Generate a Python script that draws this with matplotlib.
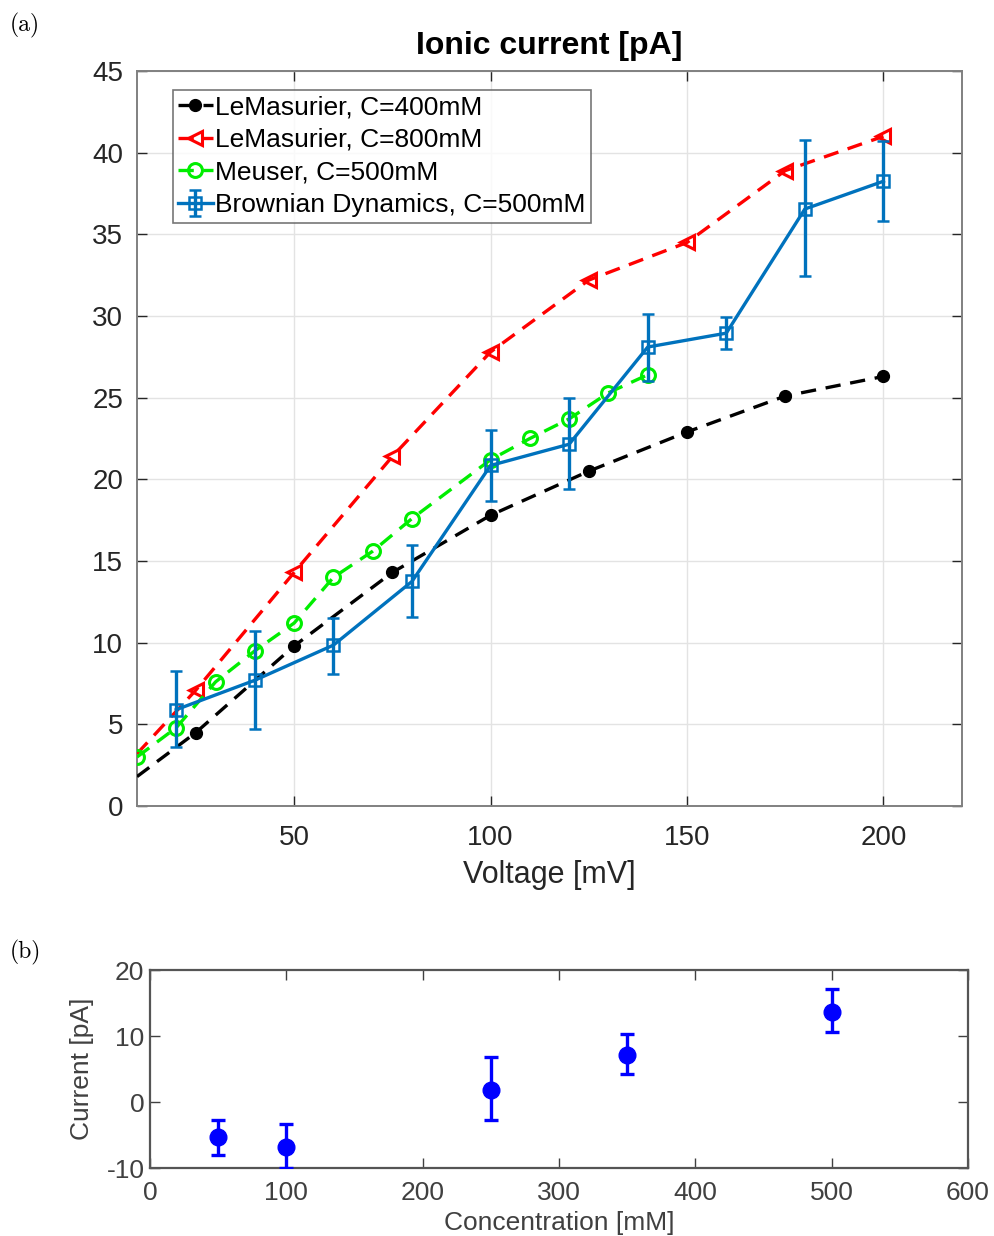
import matplotlib
matplotlib.use("Agg")
import matplotlib.pyplot as plt
import numpy as np

plt.rcParams['font.family'] = ['Liberation Sans', 'DejaVu Sans']
plt.rcParams['lines.scale_dashes'] = False
plt.rcParams['axes.unicode_minus'] = False

# ---------------- data: panel (a) ----------------
lem400_v = [10, 25, 50, 75, 100, 125, 150, 175, 200]
lem400_i = [1.8, 4.5, 9.8, 14.3, 17.8, 20.5, 22.9, 25.1, 26.3]

lem800_v = [10, 25, 50, 75, 100, 125, 150, 175, 200]
lem800_i = [3.2, 7.1, 14.3, 21.4, 27.8, 32.2, 34.5, 38.9, 41.0]

meuser_v = [10, 20, 30, 40, 50, 60, 70, 80, 100, 110, 120, 130, 140]
meuser_i = [3.0, 4.8, 7.6, 9.5, 11.2, 14.0, 15.6, 17.6, 21.2, 22.5, 23.7, 25.3, 26.4]

bd_v = [20, 40, 60, 80, 100, 120, 140, 160, 180, 200]
bd_i = [5.9, 7.7, 9.85, 13.75, 20.85, 22.15, 28.1, 28.95, 36.55, 38.25]
bd_lo = [3.6, 4.7, 8.1, 11.55, 18.65, 19.4, 26.0, 27.95, 32.45, 35.8]
bd_hi = [8.25, 10.7, 11.5, 15.95, 23.05, 24.95, 30.15, 29.95, 40.75, 40.7]

# ---------------- data: panel (b) ----------------
conc = [50, 100, 250, 350, 500]
cur = [-5.3, -6.8, 1.8, 7.1, 13.7]
cur_lo = [-8.0, -10.0, -2.7, 4.2, 10.6]
cur_hi = [-2.7, -3.3, 6.8, 10.3, 17.1]

W, H = 994, 1236
fig = plt.figure(figsize=(W / 100, H / 100), dpi=100)

# ---------------- panel (a) ----------------
ax = fig.add_axes([137 / W, 1 - 806 / H, (962 - 137) / W, (806 - 71) / H])
txtc = '#262626'
ax.grid(True, color='#e3e3e3', linewidth=1.0)
ax.set_axisbelow(True)

dash = (11, 7)
l1, = ax.plot(lem400_v, lem400_i, color='black', lw=2.4, dashes=dash,
              marker='o', ms=8.5, mfc='black', mec='black',
              markevery=list(range(1, len(lem400_v))),
              label='LeMasurier, C=400mM', zorder=3)
l2, = ax.plot(lem800_v, lem800_i, color='#ff0000', lw=2.4, dashes=dash,
              marker='<', ms=10, mfc='none', mec='#ff0000', mew=2.2,
              markevery=list(range(1, len(lem800_v))),
              label='LeMasurier, C=800mM', zorder=3)
l3, = ax.plot(meuser_v, meuser_i, color='#00ee00', lw=2.4, dashes=dash,
              marker='o', ms=10, mfc='none', mec='#00ee00', mew=2.2,
              label='Meuser, C=500mM', zorder=3)
bd_err = [np.array(bd_i) - np.array(bd_lo), np.array(bd_hi) - np.array(bd_i)]
e4 = ax.errorbar(bd_v, bd_i, yerr=bd_err, color='#0072bd', lw=2.4,
                 marker='s', ms=8, mfc='none', mec='#0072bd', mew=1.8,
                 elinewidth=2.4, capsize=4, capthick=2.4,
                 label='Brownian Dynamics, C=500mM', zorder=4)

ax.set_xlim(10, 220)
ax.set_ylim(0, 45)
ax.set_xticks([50, 100, 150, 200])
ax.set_yticks(np.arange(0, 46, 5))
ax.tick_params(direction='in', length=7, width=1, colors=txtc, labelsize=20,
               top=True, right=True, pad=10)
ax.tick_params(axis='x', pad=14)
for s in ax.spines.values():
    s.set_color('#808080')
    s.set_linewidth(1.4)
ax.set_title('Ionic current [pA]', fontsize=23, fontweight='bold', color='black', pad=12)
ax.set_xlabel('Voltage [mV]', fontsize=22, color=txtc, labelpad=6)

leg = ax.legend(handles=[l1, l2, l3, e4], loc='upper left',
                bbox_to_anchor=(36 / 825, 1 - 19 / 735), fontsize=19,
                frameon=True, fancybox=False, edgecolor='#555555',
                handlelength=1.3, handletextpad=0.1, borderpad=0.2,
                labelspacing=0.33, borderaxespad=0)
leg.get_frame().set_linewidth(1.2)

fig.text(10 / W, 1 - 25 / H, '(a)', fontsize=17, family='cmr10',
         va='center', ha='left')

# ---------------- panel (b) ----------------
bc = '#404040'
nar = ['Liberation Sans Narrow', 'Liberation Sans', 'DejaVu Sans']
bx = fig.add_axes([150 / W, 1 - 1168 / H, (968 - 150) / W, (1168 - 970) / H])
c_err = [np.array(cur) - np.array(cur_lo), np.array(cur_hi) - np.array(cur)]
bx.errorbar(conc, cur, yerr=c_err, fmt='o', color='#0000ff', ms=12,
            elinewidth=2.4, capsize=5, capthick=2.4, zorder=3)
bx.set_xlim(0, 600)
bx.set_ylim(-10, 20)
bx.set_xticks(np.arange(0, 601, 100))
bx.set_yticks([-10, 0, 10, 20])
bx.tick_params(direction='in', length=7, width=1, colors=bc, labelsize=19,
               top=True, right=True, pad=4)
bx.tick_params(axis='x', pad=9)
for lab in bx.get_xticklabels() + bx.get_yticklabels():
    lab.set_family(nar)
for s in bx.spines.values():
    s.set_color('#555555')
    s.set_linewidth(1.6)
bx.set_xlabel('Concentration [mM]', fontsize=19, color=bc, family=nar, labelpad=5)
bx.set_ylabel('Current [pA]', fontsize=19, color=bc, family=nar, labelpad=9)

fig.text(10 / W, 1 - 952 / H, '(b)', fontsize=17, family='cmr10',
         va='center', ha='left')

fig.savefig('out.png', dpi=100)
